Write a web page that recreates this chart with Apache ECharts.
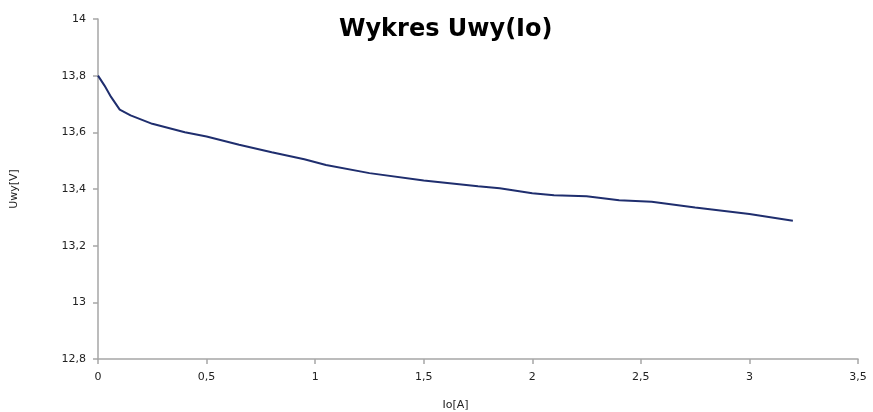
<!DOCTYPE html>
<html>
<head>
<meta charset="utf-8">
<script src="https://cdn.jsdelivr.net/npm/echarts@6/dist/echarts.min.js"></script>
<style>
  html, body { margin: 0; padding: 0; background: #fff; }
  #chart { width: 873px; height: 412px; }
</style>
</head>
<body>
<div id="chart"></div>
<script>
// Io [A] vs Uwy [V]
var io_values = [0, 0.03, 0.06, 0.1, 0.15, 0.25, 0.4, 0.5, 0.65, 0.8, 0.95, 1.05, 1.25,
                 1.5, 1.75, 1.85, 2.0, 2.1, 2.25, 2.4, 2.55, 2.75, 3.0, 3.2];
var uwy_values = [13.80, 13.765, 13.725, 13.68, 13.66, 13.63, 13.60, 13.585, 13.556, 13.53, 13.505, 13.485, 13.456,
                  13.43, 13.41, 13.403, 13.385, 13.378, 13.374, 13.36, 13.355, 13.335, 13.312, 13.288];
var title_text = "Wykres Uwy(Io)";
var x_name = "Io[A]";
var y_name = "Uwy[V]";

var toComma = function (v) {
    return String(+v.toFixed(2)).replace(".", ",");
};

var chart_obj = echarts.init(document.getElementById("chart"));
var points = io_values.map(function (x, i) { return [x, uwy_values[i]]; });

var axisStyle = {
    axisLine: { show: true, lineStyle: { color: "#a6a6a6", width: 1.5 } },
    axisTick: { show: true, length: 5, inside: false, lineStyle: { color: "#a6a6a6", width: 1.5 } },
    splitLine: { show: false },
    axisLabel: { color: "#222", fontFamily: "DejaVu Sans", fontSize: 11, formatter: toComma }
};

var option = {
    animation: false,
    backgroundColor: "#fff",
    title: {
        text: title_text,
        left: 334,
        top: 13,
        textStyle: { fontFamily: "DejaVu Sans", fontWeight: "bold", fontSize: 24, color: "#000" }
    },
    grid: { left: 98, right: 15, top: 19, bottom: 53, outerBoundsMode: "none", containLabel: false },
    xAxis: echarts.util.merge({
        type: "value",
        min: 0, max: 3.5, interval: 0.5,
        name: x_name,
        nameLocation: "middle",
        nameGap: 41,
        nameTextStyle: { color: "#222", fontFamily: "DejaVu Sans", fontSize: 11, padding: [0, 45, 0, 0] },
        axisLabel: { margin: 13 }
    }, echarts.util.clone(axisStyle)),
    yAxis: echarts.util.merge({
        type: "value",
        min: 12.8, max: 14, interval: 0.2,
        name: y_name,
        nameLocation: "middle",
        nameGap: 78,
        nameRotate: 90,
        nameTextStyle: { color: "#222", fontFamily: "DejaVu Sans", fontSize: 11 },
        axisLabel: { margin: 12 }
    }, echarts.util.clone(axisStyle)),
    series: [{
        type: "line",
        data: points,
        showSymbol: false,
        lineStyle: { color: "#1f2e6e", width: 2 }
    }]
};
chart_obj.setOption(option);
</script>
</body>
</html>
